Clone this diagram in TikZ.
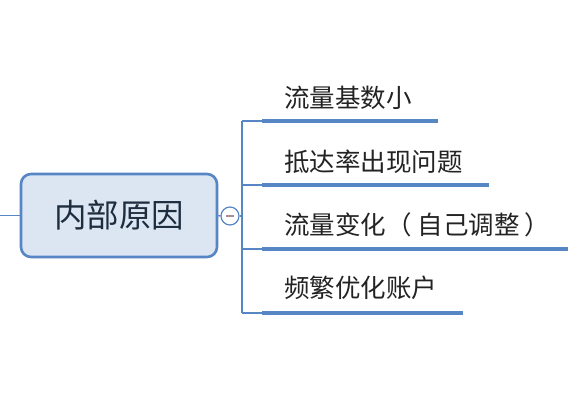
\documentclass[tikz,border=0pt]{standalone}
\usepackage{fontspec}
\newfontfamily\cjk{Noto Sans CJK SC}
\definecolor{mapblue}{RGB}{86,134,196}
\definecolor{rootfill}{RGB}{220,230,243}
\definecolor{roottext}{RGB}{30,45,62}
\definecolor{leaftext}{RGB}{35,35,35}
\definecolor{minuscol}{RGB}{170,140,150}
\tikzset{
  rootbox/.style={draw=mapblue, line width=2.6pt, fill=rootfill, rounded corners=10pt,
    minimum width=196pt, minimum height=83pt, inner sep=0pt,
    font=\cjk\fontsize{32.5}{32.5}\selectfont, text=roottext},
  thinline/.style={draw=mapblue, line width=1.4pt},
  underline/.style={draw=mapblue, line width=4pt},
  leaf/.style={anchor=west, inner sep=0pt, font=\cjk\fontsize{25.5}{25.5}\selectfont, text=leaftext},
  toggle/.style={circle, draw=mapblue, line width=1.2pt, fill=white, minimum size=18pt, inner sep=0pt}
}
\begin{document}
\begin{tikzpicture}[x=1pt,y=-1pt]
\useasboundingbox[fill=white] (0,0) rectangle (576,404);
% root
\coordinate (lin) at (0,215.5);
\node[rootbox] (root) at (119,215.5) {内部原因};
\draw[thinline] (lin) -- (root.west);
% toggle
\node[toggle] (tog) at (230,216) {};
\draw[minuscol, line width=1.3pt] ([xshift=-4pt]tog.center) -- ([xshift=4pt]tog.center);
\draw[thinline] (root.east) -- (tog.west);
% trunk
\coordinate (tj) at (242,216);
\coordinate (ttop) at (242,121);
\coordinate (tbot) at (242,313);
\draw[thinline] (tog.east) -- (tj);
\draw[thinline] (ttop) -- (tbot);
% branch start / end points
\coordinate (s1) at (262,121); \coordinate (e1) at (438,121);
\coordinate (s2) at (262,185); \coordinate (e2) at (489,185);
\coordinate (s3) at (262,249); \coordinate (e3) at (568,249);
\coordinate (s4) at (262,313); \coordinate (e4) at (463,313);
\coordinate (j2) at (242,185); \coordinate (j3) at (242,249);
\draw[thinline] (ttop) -- (s1);
\draw[thinline] (j2) -- (s2);
\draw[thinline] (j3) -- (s3);
\draw[thinline] (tbot) -- (s4);
\draw[underline] (s1) -- (e1);
\draw[underline] (s2) -- (e2);
\draw[underline] (s3) -- (e3);
\draw[underline] (s4) -- (e4);
% leaf texts
\node[leaf] (l1) at (284,98) {流量基数小};
\node[leaf] (l2) at (284,162) {抵达率出现问题};
\node[leaf] (l3) at (284,225) {流量变化（\hspace{6pt}自己调整\hspace{5pt}）};
\node[leaf] (l4) at (284,288) {频繁优化账户};
\end{tikzpicture}
\end{document}
